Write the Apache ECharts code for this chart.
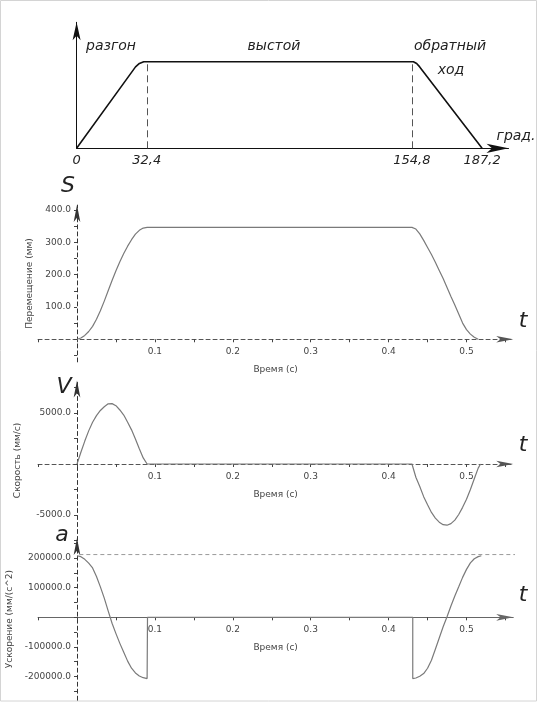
<!DOCTYPE html>
<html>
<head>
<meta charset="utf-8">
<script src="https://cdn.jsdelivr.net/npm/echarts@6/dist/echarts.min.js"></script>
<style>
  html, body { margin: 0; padding: 0; background: #fff; }
  #chart { width: 539px; height: 704px; }
</style>
</head>
<body>
<div id="chart"></div>
<script>
// цикл (схема): угол, град. и относительный подъём
const cycleDeg = [0, 27.2, 29, 31, 155.5, 157, 158.4, 187.2]
const cycleH = [0, 0.94, 0.98, 1, 1, 0.98, 0.94, 0]
const phaseDeg = [0, 32.4, 154.8, 187.2]
const phaseNames = ['разгон', 'выстой', 'обратный', 'ход']

// перемещение S (мм)
const sTime = [0, 0.005, 0.01, 0.015, 0.02, 0.025, 0.03, 0.035, 0.04, 0.045, 0.05, 0.055, 0.06, 0.065, 0.07, 0.075, 0.08, 0.085, 0.09,
  0.43, 0.435, 0.44, 0.445, 0.45, 0.455, 0.46, 0.465, 0.47, 0.475, 0.48, 0.485, 0.49, 0.495, 0.5, 0.505, 0.51, 0.515]
const sVal = [0, 4, 12, 24, 40, 62, 88, 118, 150, 182, 212, 240, 265, 288, 308, 325, 337, 344, 346,
  346, 341, 326, 306, 284, 262, 238, 213, 188, 160, 132, 106, 78, 50, 30, 16, 6, 0]

// скорость V (мм/с)
const vTime = [0, 0.005, 0.01, 0.015, 0.02, 0.025, 0.03, 0.035, 0.04, 0.045, 0.05, 0.055, 0.06, 0.065, 0.07, 0.075, 0.08, 0.085, 0.09,
  0.43, 0.435, 0.44, 0.445, 0.45, 0.455, 0.46, 0.465, 0.47, 0.475, 0.48, 0.485, 0.49, 0.495, 0.5, 0.505, 0.51, 0.515, 0.518]
const vVal = [0, 1150, 2250, 3250, 4100, 4750, 5250, 5620, 5900, 5920, 5720, 5300, 4800, 4100, 3350, 2450, 1500, 600, 0,
  0, -1300, -2200, -3200, -4000, -4750, -5300, -5700, -5950, -6000, -5850, -5500, -4950, -4250, -3450, -2500, -1450, -400, 0]

// ускорение a (мм/с^2)
const aTime = [0, 0.005, 0.01, 0.015, 0.02, 0.025, 0.03, 0.035, 0.04, 0.045, 0.05, 0.055, 0.06, 0.065, 0.07, 0.075, 0.08, 0.085, 0.09, 0.0905,
  0.431, 0.431, 0.435, 0.44, 0.445, 0.45, 0.455, 0.46, 0.465, 0.47, 0.475, 0.48, 0.485, 0.49, 0.495, 0.5, 0.505, 0.51, 0.515, 0.519]
const aVal = [208000, 205000, 196000, 183000, 167000, 138000, 103000, 65000, 22000, -20000, -55000, -88000, -118000, -148000, -172000, -188000, -198000, -204000, -207000, 0,
  0, -207000, -205000, -199000, -190000, -172000, -145000, -108000, -70000, -32000, 2000, 38000, 72000, 103000, 135000, 162000, 184000, 198000, 205000, 208000]
const aLimitT = [0.003, 0.57]
const aLimitV = [212000, 212000]

// деления осей
const xTicks = [-0.05, 0, 0.05, 0.1, 0.15, 0.2, 0.25, 0.3, 0.35, 0.4, 0.45, 0.5, 0.55]
const xLabels = [0.1, 0.2, 0.3, 0.4, 0.5]
const sTicks = [-50, 0, 50, 100, 150, 200, 250, 300, 350, 400]
const sLabels = [100, 200, 300, 400]
const vTicks = [-7500, -5000, -2500, 0, 2500, 5000, 7500]
const vLabels = [-5000, 5000]
const aTicks = [-250000, -200000, -150000, -100000, -50000, 0, 50000, 100000, 150000, 200000, 250000]
const aLabels = [-200000, -100000, 100000, 200000]

const zip = (xs, ys) => xs.map((x, i) => [x, ys[i]])

const labelFont = { fontFamily: 'DejaVu Sans', fontSize: 9, color: '#444' }
const handFont = { fontFamily: 'DejaVu Sans', fontStyle: 'italic', fontWeight: 200 }

// оси времени: ось t=0 смещена от левого края сетки, ось значения 0 — от нижнего
const tMin = -0.05
const tMax = 0.56
const plotLeft = 38.05
const plotWidth = 475.2
const yAxisShift = -(-tMin) * plotWidth / (tMax - tMin)

let timeAxis = (gi, dashed, zeroShift) => ({
  gridIndex: gi,
  type: 'value',
  position: 'bottom',
  offset: zeroShift,
  min: tMin,
  max: tMax,
  name: 'Время (с)',
  nameLocation: 'middle',
  nameGap: 26,
  nameTextStyle: labelFont,
  splitLine: { show: false },
  axisLine: {
    onZero: false,
    symbol: ['none', 'arrow'],
    symbolSize: [5, 17],
    lineStyle: { color: dashed ? '#555' : '#666', width: 1, type: dashed ? [4, 3] : 'solid' }
  },
  axisTick: { customValues: xTicks, length: 3, lineStyle: { color: '#444' } },
  axisLabel: Object.assign({ customValues: xLabels, margin: 8, formatter: v => v.toFixed(1) }, labelFont)
})

let valueAxis = (gi, min, max, ticks, labels, name, gap) => ({
  gridIndex: gi,
  type: 'value',
  position: 'left',
  offset: yAxisShift,
  min: min,
  max: max,
  name: name,
  nameLocation: 'middle',
  nameRotate: 90,
  nameGap: gap,
  nameTextStyle: labelFont,
  splitLine: { show: false },
  axisLine: {
    onZero: false,
    symbol: ['none', 'arrow'],
    symbolSize: [5, 17],
    lineStyle: { color: '#333', width: 1, type: [4, 3] }
  },
  axisTick: { customValues: ticks, length: 3, lineStyle: { color: '#444' } },
  axisLabel: Object.assign({ customValues: labels, margin: 6, formatter: v => v.toFixed(1) }, labelFont)
})

// сдвиг оси t вверх до нуля значений
let zeroShift = (min, max, height) => -(-min) * height / (max - min)

let curve = (gi, data) => ({
  type: 'line',
  xAxisIndex: gi,
  yAxisIndex: gi,
  data: data,
  showSymbol: false,
  silent: true,
  lineStyle: { color: '#7a7a7a', width: 1.2 }
})

let handText = (text, x, y, size) => ({
  type: 'text',
  x: x,
  y: y,
  silent: true,
  style: Object.assign({ text: text, fontSize: size, fill: '#222', align: 'center', verticalAlign: 'middle' }, handFont)
})

let myChart = echarts.init(document.getElementById('chart'))

let options = {
  animation: false,
  backgroundColor: '#fff',
  grid: [
    { left: 76.6, top: 22.3, width: 431.9, height: 126, outerBoundsMode: 'none' },
    { left: plotLeft, top: 205.1, width: plotWidth, height: 156.8, outerBoundsMode: 'none' },
    { left: plotLeft, top: 380.4, width: plotWidth, height: 160.1, outerBoundsMode: 'none' },
    { left: plotLeft, top: 538, width: plotWidth, height: 162.2, outerBoundsMode: 'none' }
  ],
  xAxis: [
    {
      gridIndex: 0,
      type: 'value',
      min: 0,
      max: 199.4,
      splitLine: { show: false },
      axisLine: { symbol: ['none', 'arrow'], symbolSize: [7, 22], lineStyle: { color: '#111', width: 1 } },
      axisTick: { show: false },
      axisLabel: Object.assign({
        customValues: phaseDeg,
        margin: 6,
        fontSize: 13,
        color: '#222',
        formatter: v => String(v).replace('.', ',')
      }, handFont)
    },
    timeAxis(1, true, zeroShift(-70, 415, 156.8)),
    timeAxis(2, true, zeroShift(-7500, 8200, 160.1)),
    timeAxis(3, false, zeroShift(-280000, 268000, 162.2))
  ],
  yAxis: [
    {
      gridIndex: 0,
      type: 'value',
      min: 0,
      max: 1.455,
      splitLine: { show: false },
      axisLine: { symbol: ['none', 'arrow'], symbolSize: [6, 18], lineStyle: { color: '#111', width: 1 } },
      axisTick: { show: false },
      axisLabel: { show: false }
    },
    valueAxis(1, -70, 415, sTicks, sLabels, 'Перемещение (мм)', 37),
    valueAxis(2, -7500, 8200, vTicks, vLabels, 'Скорость (мм/с)', 55),
    valueAxis(3, -280000, 268000, aTicks, aLabels, 'Ускорение (мм/(с^2)', 60)
  ],
  series: [
    {
      type: 'line',
      xAxisIndex: 0,
      yAxisIndex: 0,
      data: zip(cycleDeg, cycleH),
      showSymbol: false,
      silent: true,
      lineStyle: { color: '#111', width: 1.6 },
      markLine: {
        silent: true,
        symbol: ['none', 'none'],
        label: { show: false },
        lineStyle: { color: '#555', width: 1, type: [7, 4] },
        data: phaseDeg.slice(1, 3).map(d => [{ coord: [d, 0] }, { coord: [d, 1] }])
      }
    },
    curve(1, zip(sTime, sVal)),
    curve(2, zip(vTime, vVal)),
    curve(3, zip(aTime, aVal)),
    {
      type: 'line',
      xAxisIndex: 3,
      yAxisIndex: 3,
      data: zip(aLimitT, aLimitV),
      showSymbol: false,
      silent: true,
      clip: false,
      lineStyle: { color: '#9a9a9a', width: 1, type: [4, 3] }
    }
  ],
  graphic: [
    {
      type: 'rect',
      silent: true,
      shape: { x: 0.5, y: 0.5, width: 536, height: 700.5 },
      style: { fill: 'none', stroke: '#d4d4d4', lineWidth: 1 }
    },
    handText(phaseNames[0], 111, 46, 14),
    handText(phaseNames[1], 274, 46, 14),
    handText(phaseNames[2], 450, 46, 14),
    handText(phaseNames[3], 451, 70, 14),
    handText('град.', 516, 136, 14),
    handText('S', 68, 186, 22),
    handText('V', 64, 387, 22),
    handText('a', 62, 535, 22),
    handText('t', 523, 321, 22),
    handText('t', 523, 445, 22),
    handText('t', 523, 595, 22)
  ]
}

myChart.setOption(options)
</script>
</body>
</html>
